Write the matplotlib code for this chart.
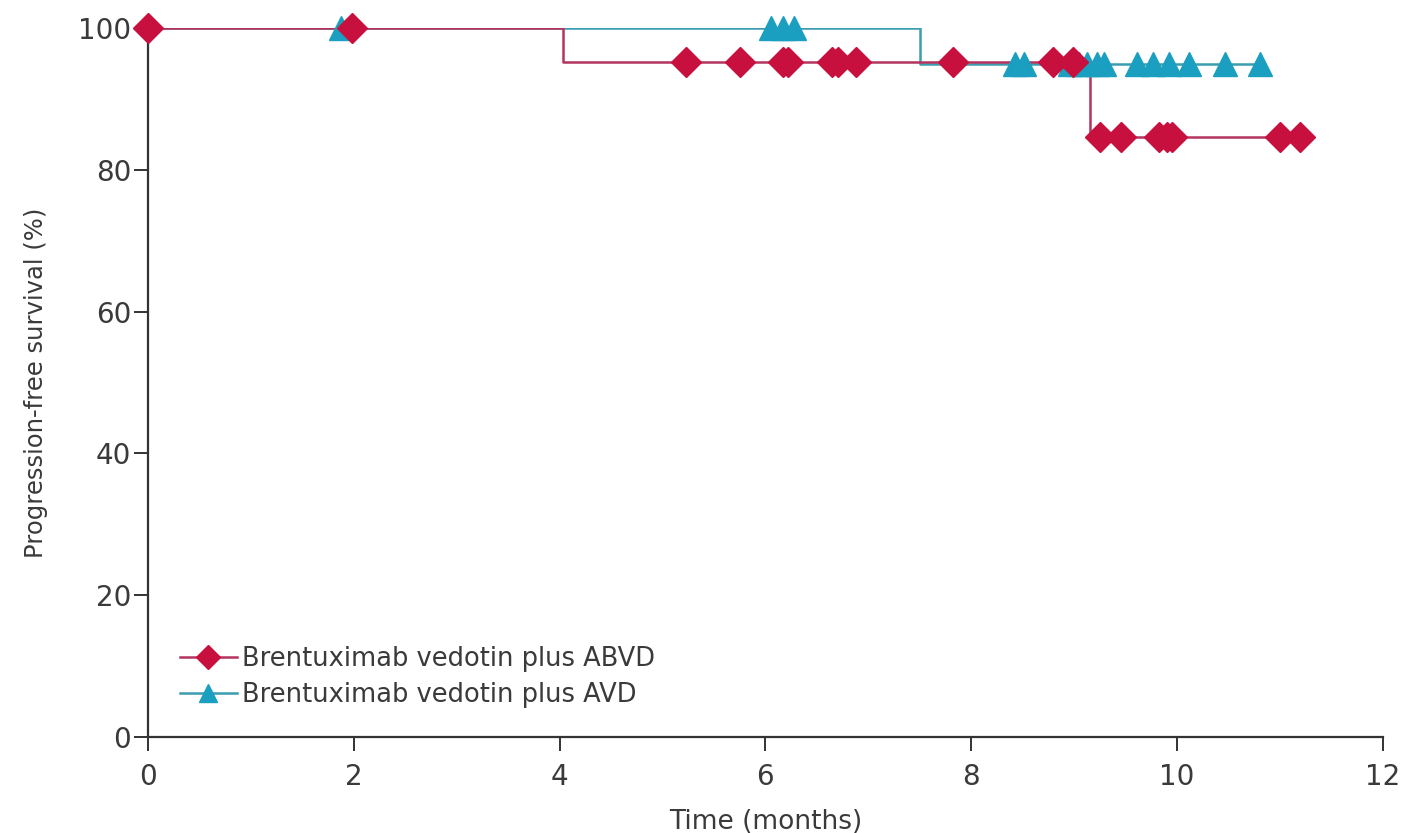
import matplotlib.pyplot as plt
import numpy as np

# Kaplan-Meier steps (time in months, survival %)
abvd_t = [0, 4.03, 9.15, 11.2]
abvd_s = [100, 95.2, 84.6, 84.6]
avd_t = [0, 7.5, 10.81]
avd_s = [100, 94.9, 94.9]

# censor marks
abvd_cens_t = [0, 1.98, 5.23, 5.75, 6.17, 6.22, 6.65, 6.71, 6.88, 7.82, 8.80, 8.99,
               9.25, 9.46, 9.83, 9.90, 9.95, 11.0, 11.2]
abvd_cens_s = [100, 100] + [95.2] * 10 + [84.6] * 7
avd_cens_t = [1.88, 6.05, 6.17, 6.28, 8.43, 8.51, 8.96, 9.05, 9.13, 9.22, 9.29,
              9.61, 9.77, 9.92, 10.12, 10.47, 10.81]
avd_cens_s = [100] * 4 + [94.9] * 13

x_ticks = [0, 2, 4, 6, 8, 10, 12]
y_ticks = [0, 20, 40, 60, 80, 100]

red = '#c8103f'
red_line = '#b4345e'
teal = '#1a9fc0'
teal_line = '#3a9db0'
txt = '#3a3a3a'

plt.rcParams['font.family'] = ['DejaVu Sans']

fig = plt.figure(figsize=(14.01, 8.33), dpi=100)
ax = fig.add_axes([0.1056, 0.1152, 0.8814, 0.8512])

ax.step(avd_t, avd_s, where='post', color=teal_line, lw=1.8, zorder=2)
ax.step(abvd_t, abvd_s, where='post', color=red_line, lw=1.8, zorder=2)
ax.plot(avd_cens_t, avd_cens_s, ls='none', marker='^', ms=17, color=teal,
        mec=teal, clip_on=False, zorder=3)
ax.plot(abvd_cens_t, abvd_cens_s, ls='none', marker='D', ms=15, color=red,
        mec=red, clip_on=False, zorder=4)

# legend proxies
ax.plot([], [], color=red_line, lw=1.8, marker='D', ms=15, mfc=red, mec=red,
        label='Brentuximab vedotin plus ABVD')
ax.plot([], [], color=teal_line, lw=1.8, marker='^', ms=17, mfc=teal, mec=teal,
        label='Brentuximab vedotin plus AVD')
ax.legend(loc='lower left', bbox_to_anchor=(0.026, 0.041), frameon=False,
          fontsize=18.5, handlelength=2.2, handletextpad=0.2, labelspacing=0.4,
          borderaxespad=0, borderpad=0, markerscale=0.8, labelcolor=txt)

ax.set_xlim(0, 12)
ax.set_ylim(0, 100)
ax.set_xticks(x_ticks)
ax.set_yticks(y_ticks)
ax.spines['top'].set_visible(False)
ax.spines['right'].set_visible(False)
for s in ['left', 'bottom']:
    ax.spines[s].set_color('#333333')
    ax.spines[s].set_linewidth(1.6)
ax.tick_params(axis='both', direction='out', length=10, width=1.4,
               colors='#333333', labelsize=20, pad=2)
ax.tick_params(axis='y', labelcolor=txt)
ax.tick_params(axis='x', labelcolor=txt, pad=9)
ax.set_xlabel('Time (months)', fontsize=19, color=txt, labelpad=13)
ax.set_ylabel('Progression-free survival (%)', fontsize=17.5, color=txt,
              labelpad=22)

fig.savefig('out.png', dpi=100)
